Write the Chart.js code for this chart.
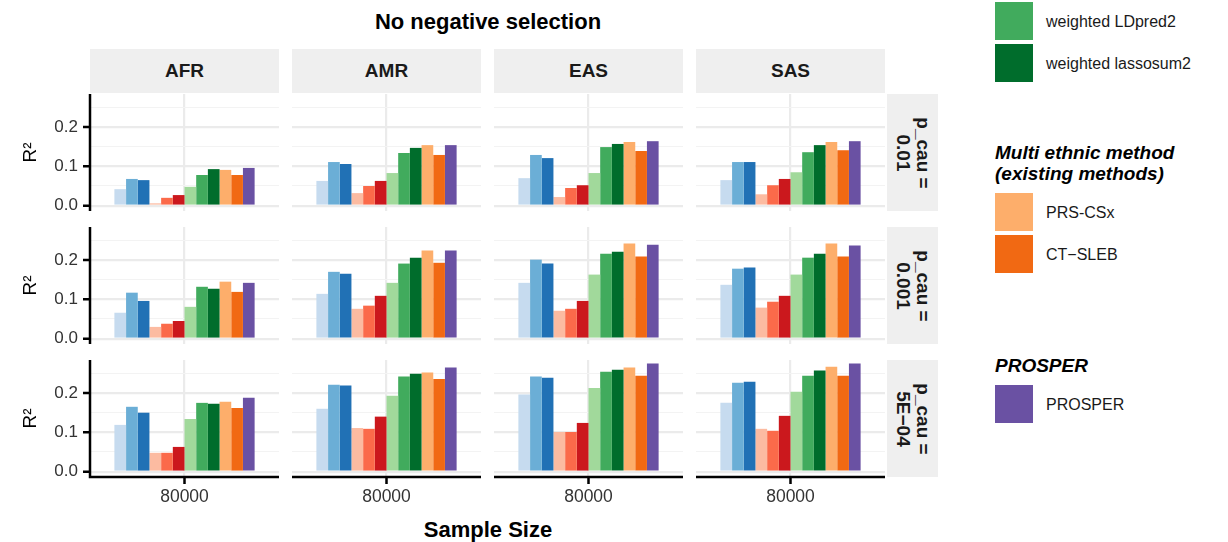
<!DOCTYPE html>
<html>
<head>
<meta charset="utf-8">
<script src="https://cdn.jsdelivr.net/npm/chart.js@4.4.1/dist/chart.umd.min.js"></script>
<style>
  body { margin: 0; background: #fff; font-family: "Liberation Sans", Arial, sans-serif; }
  #wrap { position: relative; width: 1228px; height: 542px; overflow: hidden; }
  #wrap canvas { position: absolute; }
  .strip { position: absolute; background: #efefef; display: flex; align-items: center; justify-content: center;
           font-weight: bold; font-size: 19px; color: #1a1a1a; }
  .rstrip span { transform: rotate(90deg); text-align: center; line-height: 20px; white-space: nowrap; }
  .label { position: absolute; font-weight: bold; color: #000; white-space: nowrap; transform: translate(-50%, -50%); }
  .lg { position: absolute; font-size: 16px; color: #1a1a1a; white-space: nowrap; transform: translateY(-50%); }
  .lg-title { position: absolute; font-size: 19px; font-weight: bold; font-style: italic; color: #000; line-height: 21px; white-space: nowrap; }
  .sw { position: absolute; width: 38px; height: 38px; }
</style>
</head>
<body>
<div id="wrap"></div>
<script>
// ---- data ----
const ancestries = ['AFR', 'AMR', 'EAS', 'SAS'];
const pCau = ['0.01', '0.001', '5E\u221204'];
const sampleSizes = ['80000'];
const methods = ['C+T (target)', 'LDpred2 (target)', 'lassosum2 (target)',
                 'C+T (EUR)', 'LDpred2 (EUR)', 'lassosum2 (EUR)',
                 'weighted C+T', 'weighted LDpred2', 'weighted lassosum2',
                 'PRS-CSx', 'CT\u2212SLEB', 'PROSPER'];
const methodColors = ['#c6dbef', '#6baed6', '#2171b5',
                      '#fcbba1', '#fb6a4a', '#cb181d',
                      '#a1d99b', '#41ab5d', '#006d2c',
                      '#fdae6b', '#f16913', '#6a51a3'];

// R2 per ancestry (AFR, AMR, EAS, SAS), one row of panels per p_cau
const r2Cau01 = [
  [0.042, 0.068, 0.065, 0.006, 0.020, 0.027, 0.048, 0.078, 0.093, 0.091, 0.078, 0.096],
  [0.063, 0.111, 0.106, 0.032, 0.050, 0.063, 0.083, 0.134, 0.147, 0.154, 0.129, 0.154],
  [0.070, 0.129, 0.121, 0.022, 0.045, 0.052, 0.083, 0.149, 0.157, 0.162, 0.139, 0.164],
  [0.065, 0.111, 0.111, 0.029, 0.052, 0.068, 0.085, 0.136, 0.154, 0.162, 0.141, 0.164]
];
const r2Cau001 = [
  [0.066, 0.117, 0.096, 0.030, 0.038, 0.045, 0.081, 0.132, 0.127, 0.145, 0.119, 0.142],
  [0.114, 0.170, 0.165, 0.076, 0.084, 0.109, 0.142, 0.191, 0.206, 0.224, 0.193, 0.224],
  [0.142, 0.201, 0.191, 0.071, 0.076, 0.096, 0.163, 0.216, 0.221, 0.242, 0.209, 0.239],
  [0.137, 0.178, 0.181, 0.079, 0.094, 0.109, 0.163, 0.206, 0.216, 0.242, 0.209, 0.237]
];
const r2Cau5e4 = [
  [0.119, 0.165, 0.150, 0.048, 0.048, 0.063, 0.134, 0.175, 0.173, 0.178, 0.162, 0.188],
  [0.160, 0.221, 0.219, 0.111, 0.109, 0.140, 0.193, 0.242, 0.249, 0.252, 0.236, 0.265],
  [0.196, 0.242, 0.239, 0.101, 0.101, 0.124, 0.213, 0.254, 0.259, 0.265, 0.244, 0.275],
  [0.175, 0.226, 0.229, 0.109, 0.104, 0.142, 0.203, 0.244, 0.257, 0.267, 0.244, 0.275]
];
const rows = [r2Cau01, r2Cau001, r2Cau5e4];

const yMajor = [0, 0.1, 0.2];
const yMinor = [0.05, 0.15, 0.25];

// legend groups (top of legend is cropped in the figure)
const legendGroups = [
  { title: [], items: [7, 8], top: 2 },
  { title: ['Multi ethnic method', '(existing methods)'], items: [9, 10], top: 142 },
  { title: ['PROSPER'], items: [11], top: 355 }
];

// ---- layout ----
const colLefts = [90, 292, 494, 696];
const panelW = 189;
const rowTops = [94, 227, 360];
const panelH = 117;
const yMin = -0.0135, yMax = 0.284;

const wrap = document.getElementById('wrap');

function addDiv(cls, css, html) {
  const d = document.createElement('div');
  d.className = cls;
  Object.assign(d.style, css);
  d.innerHTML = html;
  wrap.appendChild(d);
  return d;
}

// black axis lines + tick marks like ggplot's axis.line
const axisLines = {
  id: 'axisLines',
  afterDraw(chart, args, opts) {
    const { ctx, chartArea: a, scales } = chart;
    ctx.save();
    ctx.strokeStyle = '#000';
    ctx.lineWidth = 2.5;
    ctx.beginPath();
    if (opts.left) {
      ctx.moveTo(a.left, a.top);
      ctx.lineTo(a.left, a.bottom + (opts.bottom ? 1.25 : 0));
      yMajor.forEach(v => {
        const py = scales.y.getPixelForValue(v);
        ctx.moveTo(a.left - 7, py);
        ctx.lineTo(a.left, py);
      });
    }
    if (opts.bottom) {
      ctx.moveTo(a.left - (opts.left ? 1.25 : 0), a.bottom);
      ctx.lineTo(a.right, a.bottom);
      const px = scales.x.getPixelForValue(0);
      ctx.moveTo(px, a.bottom);
      ctx.lineTo(px, a.bottom + 7);
    }
    ctx.stroke();
    ctx.restore();
  }
};

function makePanel(r, c) {
  const isLeft = c === 0;
  const isBottom = r === rows.length - 1;
  const yAxW = isLeft ? colLefts[0] : 0;
  const xAxH = isBottom ? 34 : 0;
  const canvas = document.createElement('canvas');
  canvas.width = panelW + yAxW;
  canvas.height = panelH + xAxH;
  canvas.style.left = (colLefts[c] - yAxW) + 'px';
  canvas.style.top = rowTops[r] + 'px';
  wrap.appendChild(canvas);

  new Chart(canvas, {
    type: 'bar',
    data: {
      labels: sampleSizes,
      datasets: methods.map((m, i) => ({
        label: m,
        data: [rows[r][c][i]],
        backgroundColor: methodColors[i],
        borderWidth: 0
      }))
    },
    options: {
      responsive: false,
      animation: false,
      events: [],
      layout: { padding: 0 },
      datasets: { bar: { barPercentage: 1, categoryPercentage: 0.742 } },
      plugins: {
        legend: { display: false },
        tooltip: { enabled: false },
        axisLines: { left: isLeft, bottom: isBottom }
      },
      scales: {
        x: {
          grid: { offset: false, color: '#ebebeb', lineWidth: 2.2, drawTicks: false },
          border: { display: false },
          ticks: { display: isBottom, padding: 10, color: '#333', font: { family: 'Liberation Sans', size: 17.5 } },
          afterFit: s => { s.height = xAxH; s.paddingLeft = 0; s.paddingRight = 0; }
        },
        y: {
          min: yMin,
          max: yMax,
          afterBuildTicks: s => { s.ticks = yMajor.concat(yMinor).map(v => ({ value: v })); },
          grid: {
            drawTicks: false,
            color: ctx => yMajor.includes(ctx.tick.value) ? '#ebebeb' : '#f3f3f3',
            lineWidth: ctx => yMajor.includes(ctx.tick.value) ? 2.2 : 1.1
          },
          border: { display: false },
          ticks: {
            display: isLeft,
            autoSkip: false,
            padding: 12,
            color: '#333',
            font: { family: 'Liberation Sans', size: 17 },
            callback: v => yMajor.includes(v) ? v.toFixed(1) : ''
          },
          title: {
            display: isLeft,
            text: 'R\u00b2',
            color: '#000',
            font: { family: 'Liberation Sans', size: 19 },
            padding: { top: 19, bottom: 0 }
          },
          afterFit: s => { s.width = yAxW; s.paddingTop = 0; s.paddingBottom = 0; }
        }
      }
    },
    plugins: [axisLines]
  });
}

rows.forEach((_, r) => ancestries.forEach((_, c) => makePanel(r, c)));

// facet strips
ancestries.forEach((a, c) => {
  addDiv('strip', { left: colLefts[c] + 'px', top: '49px', width: panelW + 'px', height: '44px' }, a);
});
pCau.forEach((p, r) => {
  addDiv('strip rstrip', { left: '887px', top: rowTops[r] + 'px', width: '51px', height: panelH + 'px' },
         '<span>p_cau =<br>' + p + '</span>');
});

// titles
addDiv('label', { left: '488px', top: '22px', fontSize: '22px' }, 'No negative selection');
addDiv('label', { left: '488px', top: '530px', fontSize: '22px' }, 'Sample Size');

// legend
legendGroups.forEach(g => {
  let ly = g.top;
  if (g.title.length) {
    addDiv('lg-title', { left: '995px', top: ly + 'px' }, g.title.join('<br>'));
    ly += g.title.length * 21 + 9;
  }
  g.items.forEach(i => {
    addDiv('sw', { left: '995px', top: ly + 'px', background: methodColors[i] }, '');
    addDiv('lg', { left: '1046px', top: (ly + 20) + 'px' }, methods[i]);
    ly += 42;
  });
});
</script>
</body>
</html>
